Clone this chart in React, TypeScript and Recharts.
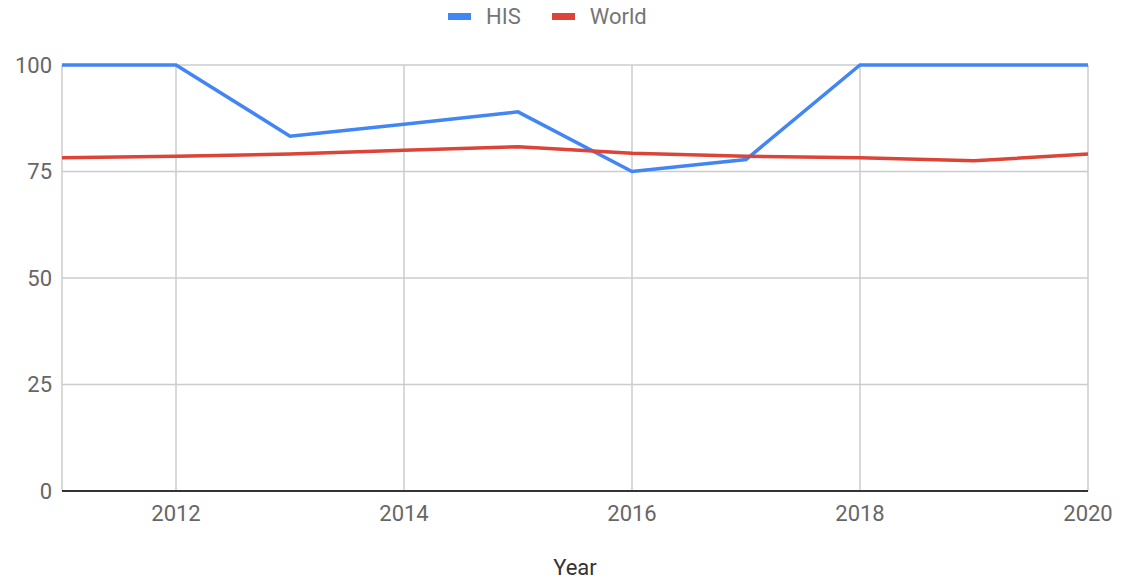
import { CartesianGrid, Line, LineChart, XAxis, YAxis } from "recharts";

const years = [2011, 2012, 2013, 2014, 2015, 2016, 2017, 2018, 2019, 2020];
const hisValues = [100, 100, 83.3, 86.1, 89, 75, 77.8, 100, 100, 100];
const worldValues = [78.2, 78.6, 79.1, 80, 80.8, 79.3, 78.6, 78.2, 77.5, 79.1];
const xTicks = [2012, 2014, 2016, 2018, 2020];
const yTicks = [0, 25, 50, 75, 100];

const series = [
    { key: "HIS", color: "#4285f4" },
    { key: "World", color: "#db4437" },
];

const data = years.map((year, i) => ({
    year,
    HIS: hisValues[i],
    World: worldValues[i],
}));

const font = "Roboto, 'Noto Sans', sans-serif";
const tickStyle = { fill: "#666666", fontSize: 22, fontFamily: font };

export default function App() {
    return (
        <div style={{ position: "absolute", left: 0, top: 0, width: 1130, height: 582, background: "#fff" }}>
            <div
                style={{
                    position: "absolute",
                    left: 448,
                    top: 4,
                    display: "flex",
                    alignItems: "center",
                    fontFamily: font,
                    fontSize: 22,
                    color: "#757575",
                }}
            >
                {series.map((s) => (
                    <div key={s.key} style={{ display: "flex", alignItems: "center", marginRight: 31 }}>
                        <span style={{ display: "inline-block", width: 23, height: 7, background: s.color, marginRight: 15 }} />
                        <span>{s.key}</span>
                    </div>
                ))}
            </div>
            <LineChart width={1130} height={582} data={data} margin={{ top: 65, right: 42, left: 0, bottom: 0 }}>
                <CartesianGrid stroke="#cccccc" strokeWidth={1.5} />
                <XAxis
                    dataKey="year"
                    type="number"
                    domain={[2011, 2020]}
                    ticks={xTicks}
                    tickLine={false}
                    tickMargin={8}
                    height={91}
                    axisLine={{ stroke: "#333333", strokeWidth: 2 }}
                    tick={tickStyle}
                    label={{ value: "Year", position: "insideBottom", offset: 7, fill: "#333333", fontSize: 22, fontFamily: font }}
                />
                <YAxis
                    domain={[0, 100]}
                    ticks={yTicks}
                    width={62}
                    axisLine={false}
                    tickLine={false}
                    tickMargin={4}
                    tick={tickStyle}
                />
                {series.map((s) => (
                    <Line
                        key={s.key}
                        dataKey={s.key}
                        stroke={s.color}
                        strokeWidth={3.5}
                        dot={false}
                        type="linear"
                        isAnimationActive={false}
                    />
                ))}
            </LineChart>
        </div>
    );
}
